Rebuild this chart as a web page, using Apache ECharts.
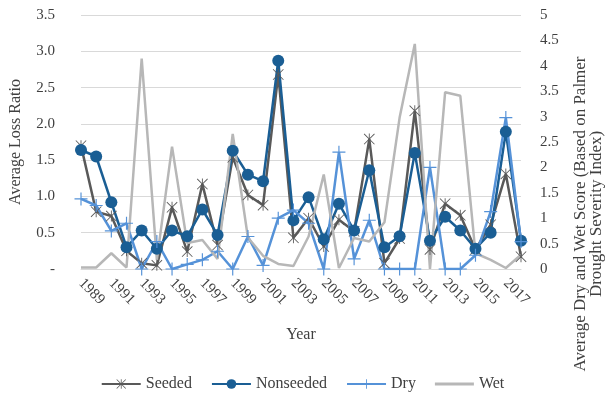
<!DOCTYPE html>
<html><head><meta charset="utf-8">
<script src="https://cdn.jsdelivr.net/npm/echarts@6/dist/echarts.min.js"></script>
<style>html,body{margin:0;padding:0;background:#fff}#c{width:605px;height:393px}</style>
</head><body><div id="c"></div>
<script>
var years = ['1989','1990','1991','1992','1993','1994','1995','1996','1997','1998','1999','2000','2001','2002','2003','2004','2005','2006','2007','2008','2009','2010','2011','2012','2013','2014','2015','2016','2017','2018'];
var seeded = [1.70,0.79,0.73,0.25,0.08,0.05,0.85,0.24,1.17,0.33,1.54,1.02,0.88,2.68,0.43,0.70,0.31,0.68,0.52,1.79,0.08,0.42,2.18,0.27,0.90,0.74,0.27,0.61,1.31,0.17];
var nonseeded = [1.64,1.55,0.92,0.30,0.53,0.28,0.53,0.45,0.82,0.47,1.63,1.30,1.21,2.87,0.67,0.99,0.41,0.90,0.53,1.36,0.30,0.45,1.60,0.39,0.72,0.53,0.28,0.50,1.89,0.39];
var dry = [1.38,1.25,0.75,0.90,0.00,0.54,0.00,0.09,0.18,0.35,0.00,0.64,0.07,1.00,1.16,0.90,0.00,2.30,0.20,0.96,0.00,0.00,0.00,2.00,0.00,0.00,0.27,1.13,2.98,0.54];
var wet = [0.03,0.03,0.31,0.03,4.14,0.18,2.41,0.51,0.57,0.20,2.66,0.62,0.26,0.10,0.06,0.64,1.86,0.02,0.61,0.54,0.92,2.98,4.43,0.00,3.48,3.41,0.31,0.18,0.02,0.28];
var leftTicks = {min:0, max:3.5, step:0.5};
var rightTicks = {min:0, max:5, step:0.5};

var FONT = 'Liberation Serif';
var TXT = '#404040';
var asterisk = 'path://M9.2 0L10.8 0L10.8 20L9.2 20Z M0 1.1L1.1 0L20 18.9L18.9 20Z M18.9 0L20 1.1L1.1 20L0 18.9Z';
var plus = 'path://M9.1 0L10.9 0L10.9 20L9.1 20Z M0 9.1L20 9.1L20 10.9L0 10.9Z';
var lineIcon = 'path://M0 0L40 0L40 3L0 3Z';

var chart = echarts.init(document.getElementById('c'), null, {renderer:'canvas'});
chart.setOption({
  animation:false,
  textStyle:{fontFamily:FONT},
  grid:{left:76, right:84, top:15, bottom:124, containLabel:false},
  legend:{
    top:371, left:'center', itemWidth:39, itemHeight:12, itemGap:19,
    textStyle:{fontFamily:FONT, fontSize:16, color:TXT},
    data:['Seeded','Nonseeded','Dry',{name:'Wet', icon:lineIcon, itemStyle:{color:'#b7b7b7'}}]
  },
  xAxis:{
    type:'category', data:years, boundaryGap:false,
    name:'Year', nameLocation:'middle', nameGap:58,
    nameTextStyle:{fontFamily:FONT, fontSize:16, color:TXT},
    axisLine:{show:true, lineStyle:{color:'#d9d9d9', width:1}},
    axisTick:{show:false},
    axisLabel:{interval:1, rotate:-45, margin:12, fontFamily:FONT, fontSize:15, color:TXT}
  },
  yAxis:[{
    type:'value', min:leftTicks.min, max:leftTicks.max, interval:leftTicks.step,
    name:'Average Loss Ratio', nameLocation:'middle', nameGap:57,
    nameTextStyle:{fontFamily:FONT, fontSize:16, color:TXT},
    axisLine:{show:false}, axisTick:{show:false},
    splitLine:{lineStyle:{color:'#d9d9d9', width:1}},
    axisLabel:{margin:26, fontFamily:FONT, fontSize:15, color:TXT,
      formatter:function(v){return v===0?'-':v.toFixed(1);}}
  },{
    type:'value', min:rightTicks.min, max:rightTicks.max, interval:rightTicks.step,
    position:'right',
    axisLine:{show:false}, axisTick:{show:false}, splitLine:{show:false},
    axisLabel:{margin:19, fontFamily:FONT, fontSize:15, color:TXT,
      formatter:function(v){return String(v);}}
  }],
  graphic:[
    {type:'text', x:581, y:214, rotation:Math.PI/2,
     style:{text:'Average Dry and Wet Score (Based on Palmer', fontFamily:FONT, fontSize:17, fill:TXT, align:'center', verticalAlign:'middle'}},
    {type:'text', x:597, y:214, rotation:Math.PI/2,
     style:{text:'Drought Severity Index)', fontFamily:FONT, fontSize:17, fill:TXT, align:'center', verticalAlign:'middle'}}
  ],
  series:[
    {name:'Seeded', type:'line', yAxisIndex:0, data:seeded, symbol:asterisk, symbolSize:11, showAllSymbol:true,
     lineStyle:{color:'#595959', width:2.5}, itemStyle:{color:'#595959'}},
    {name:'Nonseeded', type:'line', yAxisIndex:0, data:nonseeded, symbol:'circle', symbolSize:12, showAllSymbol:true,
     lineStyle:{color:'#1a5e94', width:2.5}, itemStyle:{color:'#1a5e94', borderWidth:0}},
    {name:'Dry', type:'line', yAxisIndex:1, data:dry, symbol:plus, symbolSize:13, showAllSymbol:true,
     lineStyle:{color:'#5592d8', width:2.5}, itemStyle:{color:'#5592d8'}},
    {name:'Wet', type:'line', yAxisIndex:1, data:wet, symbol:'none',
     lineStyle:{color:'#b7b7b7', width:2.5}, itemStyle:{color:'#b7b7b7'}}
  ]
});
</script></body></html>
